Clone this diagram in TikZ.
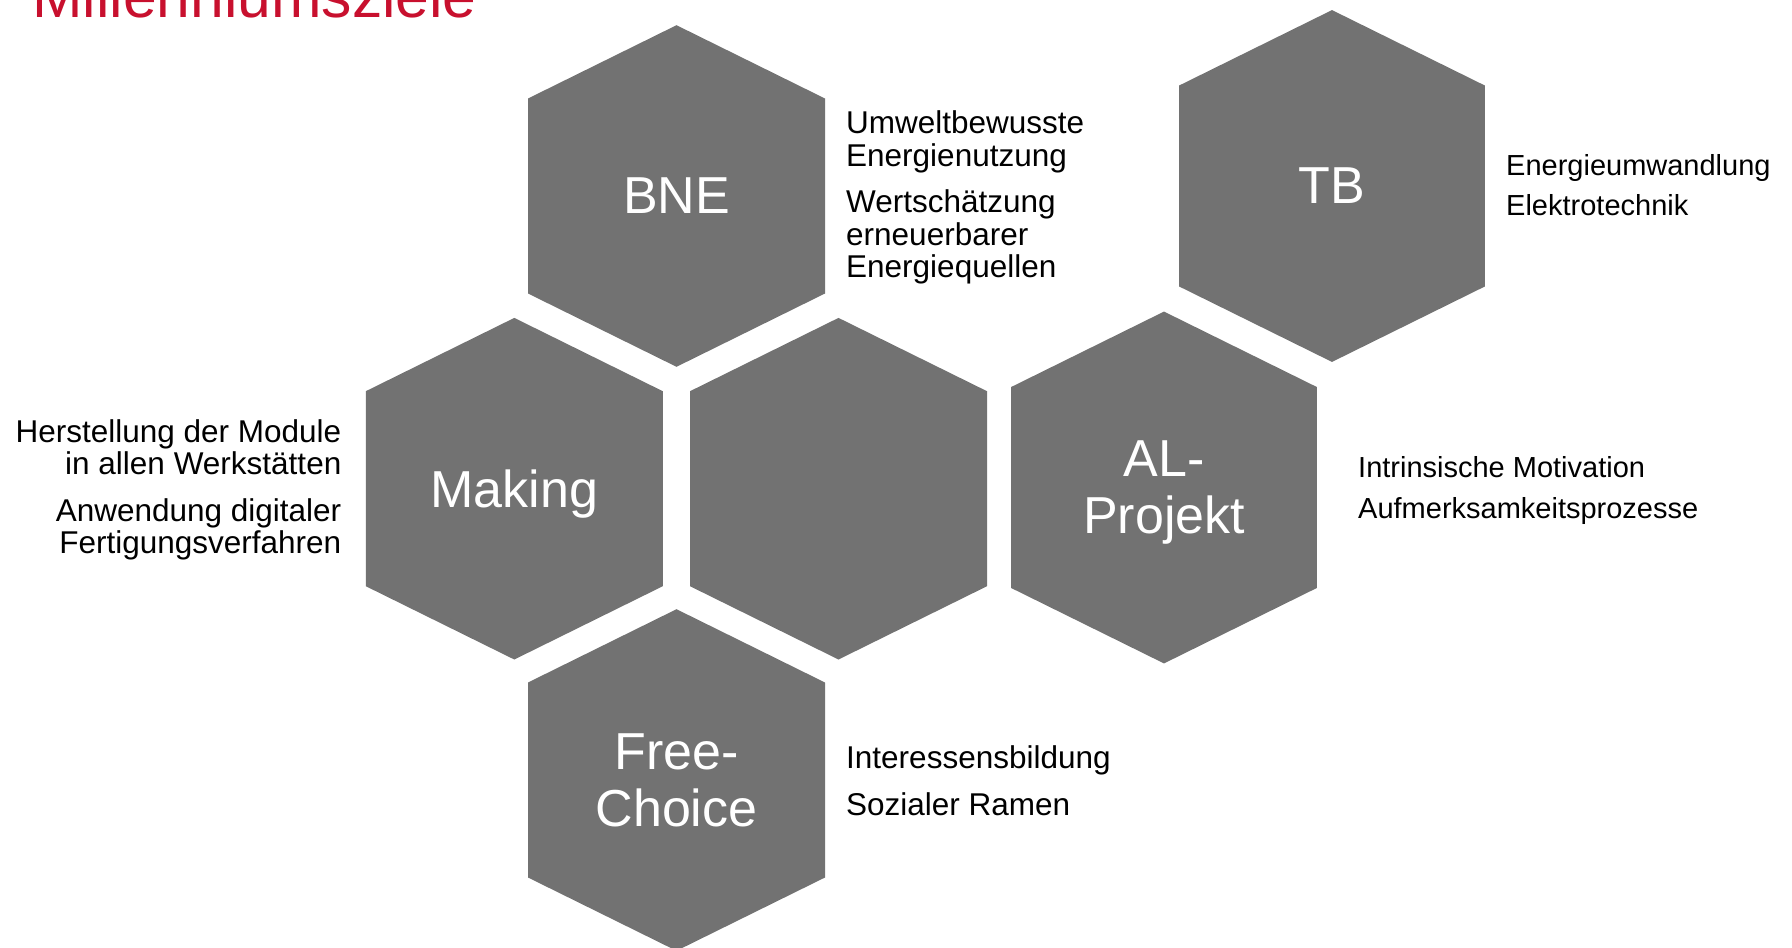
\documentclass[tikz,border=0pt]{standalone}
\usepackage{fontspec}
\setmainfont{Liberation Sans}
\definecolor{cellgray}{RGB}{114,114,114}
\definecolor{titlered}{RGB}{200,16,46}
\tikzset{
    cell/.style={fill=cellgray},
    celltext/.style={text=white, align=center, inner sep=0, text depth=0pt, font=\fontsize{52}{57}\selectfont},
    note/.style={inner sep=0, font=\fontsize{31.5}{32.5}\selectfont},
    smallnote/.style={inner sep=0, font=\fontsize{29}{30}\selectfont}
}
% hexagon: name, centre, scale, label
\newcommand{\hexcell}[4]{
    \fill[cell, shift={#2}, scale=#3] (0,-170.8) -- (148.5,-97.5) -- (148.5,97.5) -- (0,170.8) -- (-148.5,97.5) -- (-148.5,-97.5) -- cycle;
    \node[celltext] (#1) at #2 {#4};
}

\begin{document}
\begin{tikzpicture}[x=1pt, y=-1pt]
    \useasboundingbox (0,0) rectangle (1792,948);
    \node[anchor=base west, inner sep=0, text=titlered, font=\fontsize{60.6}{66}\selectfont] (title) at (32,17) {Millenniumsziele};

    \hexcell{bne}{(676.5,196)}{1}{BNE}
    \hexcell{making}{(514.3,488.7)}{1}{Making}
    \hexcell{core}{(838.5,488.7)}{1}{}
    \hexcell{free}{(676.5,780)}{1}{Free-\\Choice}
    \hexcell{tb}{(1332,186)}{1.03}{TB}
    \hexcell{al}{(1164,487.5)}{1.03}{AL-\\Projekt}

    \node[note, anchor=north west, align=left] (bnenote) at (846,110.7)
        {Umweltbewusste\\Energienutzung\\[14pt]Wertschätzung\\erneuerbarer\\Energiequellen};
    \node[note, anchor=north east, align=right] (makingnote) at (341.5,419)
        {Herstellung der Module\\in allen Werkstätten\\[14pt]Anwendung digitaler\\Fertigungsverfahren};
    \node[note, anchor=north west, align=left] (freenote) at (846,745.8)
        {Interessensbildung\\[14pt]Sozialer Ramen};
    \node[smallnote, anchor=north west, align=left] (tbnote) at (1506,154.2)
        {Energieumwandlung\\[10pt]Elektrotechnik};
    \node[smallnote, anchor=north west, align=left] (alnote) at (1358,455.9)
        {Intrinsische Motivation\\[11pt]Aufmerksamkeitsprozesse};
\end{tikzpicture}
\end{document}
